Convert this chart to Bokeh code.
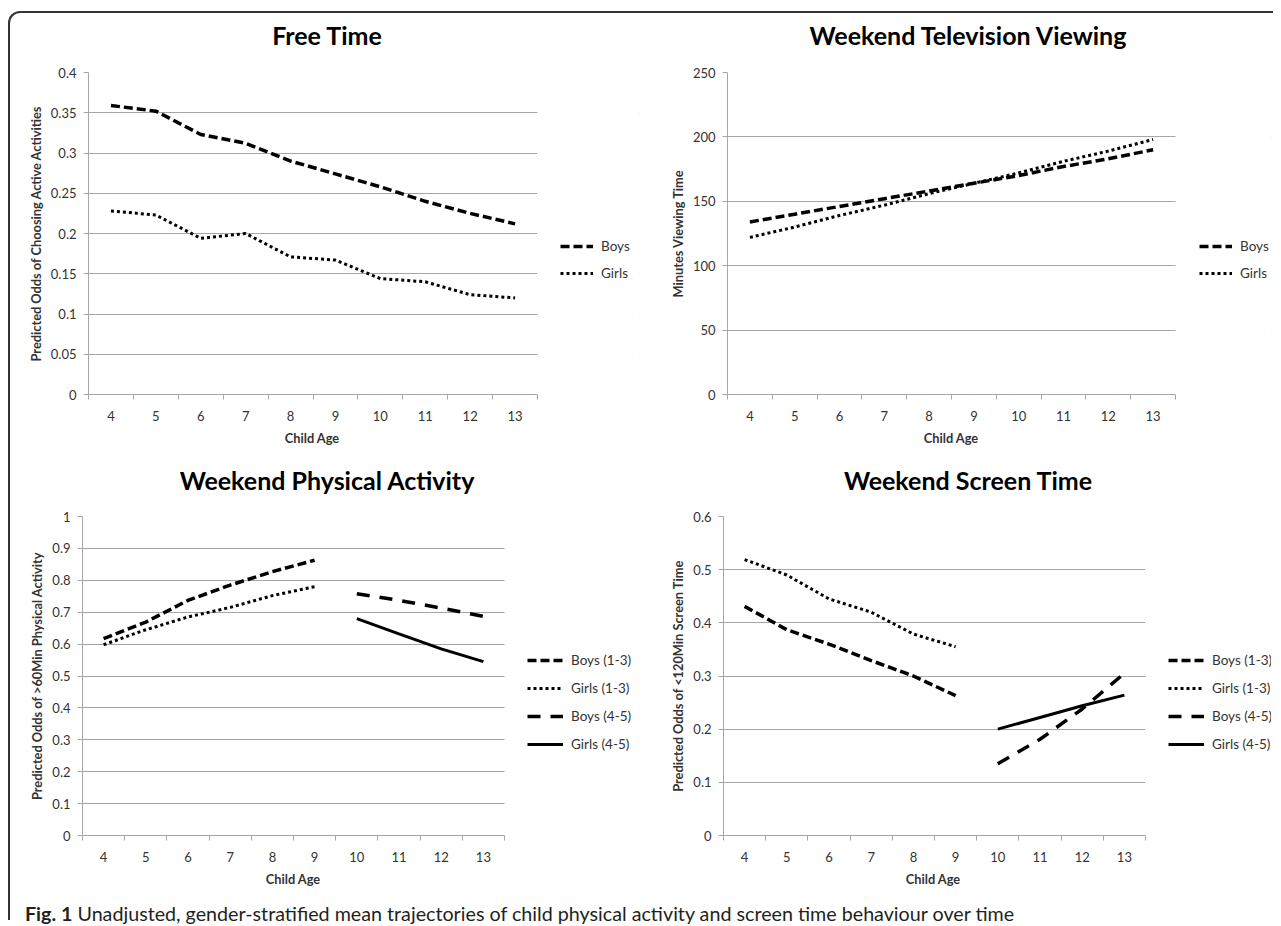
from bokeh.plotting import figure
from bokeh.models import (Range1d, FixedTicker, CustomJSTickFormatter, Legend,
                          LegendItem, BoxAnnotation, Div)
from bokeh.layouts import column, row
from bokeh.embed import file_html
from bokeh.resources import INLINE

# ---------------- data ----------------
ages = [4, 5, 6, 7, 8, 9, 10, 11, 12, 13]
ages_early = [4, 5, 6, 7, 8, 9]
ages_late = [10, 11, 12, 13]

free_boys = [0.359, 0.352, 0.323, 0.312, 0.290, 0.274, 0.258, 0.240, 0.225, 0.212]
free_girls = [0.228, 0.223, 0.194, 0.200, 0.171, 0.167, 0.144, 0.140, 0.124, 0.120]

tv_boys = [134, 140, 146, 152, 158, 164, 170, 177, 183, 190]
tv_girls = [122, 130, 139, 147, 156, 164, 172, 181, 189, 198]

pa_boys_13 = [0.617, 0.669, 0.737, 0.785, 0.827, 0.863]
pa_girls_13 = [0.598, 0.645, 0.685, 0.715, 0.752, 0.780]
pa_boys_45 = [0.758, 0.737, 0.713, 0.687]
pa_girls_45 = [0.680, 0.632, 0.585, 0.545]

st_boys_13 = [0.431, 0.387, 0.360, 0.329, 0.300, 0.263]
st_girls_13 = [0.519, 0.490, 0.445, 0.420, 0.379, 0.355]
st_boys_45 = [0.135, 0.181, 0.238, 0.305]
st_girls_45 = [0.200, 0.222, 0.244, 0.264]

ticks_free = [0, 0.05, 0.1, 0.15, 0.2, 0.25, 0.3, 0.35, 0.4]
ticks_tv = [0, 50, 100, 150, 200, 250]
ticks_pa = [0, 0.1, 0.2, 0.3, 0.4, 0.5, 0.6, 0.7, 0.8, 0.9, 1]
ticks_st = [0, 0.1, 0.2, 0.3, 0.4, 0.5, 0.6]

x_title = "Child Age"

FONT = "Lato"
GRID = "#a6a6a6"
TXT = "#333333"

STY = {
    "boys": dict(line_dash="9 4", line_width=3.5),
    "girls": dict(line_dash="3 3", line_width=3),
    "boys45": dict(line_dash="13 10", line_width=3.5),
    "girls45": dict(line_dash="solid", line_width=3),
}

X_LO = ages[0] - 0.5
X_HI = ages[-1] + 0.5


def panel(ylabel, yticks, ymax, series, left, top, plot_w, frame_w, fh,
          legend_xy, glyph_w, spacing):
    x_end = X_LO + (X_HI - X_LO) * frame_w / plot_w
    p = figure(frame_width=frame_w, frame_height=fh,
               min_border_left=left, min_border_top=top,
               min_border_right=2, min_border_bottom=28,
               x_range=Range1d(X_LO, x_end), y_range=Range1d(0, ymax),
               output_backend="svg", toolbar_location=None, title=None)
    p.outline_line_color = None
    p.background_fill_color = "white"
    p.border_fill_color = "white"
    p.xgrid.visible = False
    p.ygrid.grid_line_color = GRID
    p.ygrid.grid_line_width = 1

    p.xaxis.bounds = (X_LO, X_HI)
    p.xaxis.ticker = FixedTicker(ticks=ages, minor_ticks=[a - 0.5 for a in ages] + [X_HI])
    p.xaxis.major_tick_line_color = None
    p.xaxis.major_tick_out = 0
    p.xaxis.major_tick_in = 0
    p.xaxis.minor_tick_out = 5
    p.xaxis.minor_tick_in = 0
    p.xaxis.minor_tick_line_color = GRID
    p.xaxis.major_label_standoff = 11

    p.yaxis.ticker = FixedTicker(ticks=yticks, minor_ticks=[])
    p.yaxis.formatter = CustomJSTickFormatter(code="return String(Number(tick.toFixed(3)));")
    p.yaxis.major_tick_out = 5
    p.yaxis.major_tick_in = 0
    p.yaxis.major_tick_line_color = GRID
    p.yaxis.minor_tick_line_color = None
    p.yaxis.major_label_standoff = 7
    p.yaxis.axis_label = ylabel
    p.yaxis.axis_label_standoff = 4

    for ax in (p.xaxis, p.yaxis):
        ax.axis_line_color = GRID
        ax.axis_line_width = 1
        ax.major_label_text_font = FONT
        ax.major_label_text_font_size = "13px"
        ax.major_label_text_color = TXT
        ax.axis_label_text_font = FONT
        ax.axis_label_text_font_size = "12.8px"
        ax.axis_label_text_font_style = "bold"
        ax.axis_label_text_color = TXT

    # blank out the legend area to the right of the plot area
    p.add_layout(BoxAnnotation(left=X_HI, fill_color="white", fill_alpha=1,
                               line_alpha=0))

    items = []
    for name, xs, ys, sty in series:
        r = p.line(xs, ys, line_color="black", **STY[sty])
        items.append(LegendItem(label=name, renderers=[r]))
    p.add_layout(Legend(items=items, location=legend_xy, glyph_width=glyph_w,
                        glyph_height=20, label_height=20, spacing=spacing, padding=0,
                        margin=0, border_line_color=None, background_fill_alpha=0,
                        label_text_font=FONT, label_text_font_size="13.5px",
                        label_text_color=TXT, label_standoff=8))
    return p


def centered_div(text, width, height, center_x, css):
    box_w = 480
    return Div(text=(f'<div style="margin-left:{center_x - box_w / 2}px;width:{box_w}px;'
                     f'text-align:center;white-space:nowrap;{css}">{text}</div>'),
               width=width, height=height, margin=0)


def title_div(text, width, height, center_x):
    return centered_div(text, width, height, center_x,
                        'font-family:Lato;font-weight:bold;font-size:25px;'
                        f'line-height:{height}px;color:#000')


def xlabel_div(width, height, center_x):
    return centered_div(x_title, width, height, center_x,
                        'font-family:Lato;font-weight:bold;font-size:12.8px;'
                        'line-height:26px;position:relative;top:2px;color:#333')


s1 = [("Boys", ages, free_boys, "boys"), ("Girls", ages, free_girls, "girls")]
s2 = [("Boys", ages, tv_boys, "boys"), ("Girls", ages, tv_girls, "girls")]
s3 = [("Boys (1-3)", ages_early, pa_boys_13, "boys"),
      ("Girls (1-3)", ages_early, pa_girls_13, "girls"),
      ("Boys (4-5)", ages_late, pa_boys_45, "boys45"),
      ("Girls (4-5)", ages_late, pa_girls_45, "girls45")]
s4 = [("Boys (1-3)", ages_early, st_boys_13, "boys"),
      ("Girls (1-3)", ages_early, st_girls_13, "girls"),
      ("Boys (4-5)", ages_late, st_boys_45, "boys45"),
      ("Girls (4-5)", ages_late, st_girls_45, "girls45")]

p1 = panel("Predicted Odds of Choosing Active Activities", ticks_free, 0.4, s1,
           left=78, top=15, plot_w=449, frame_w=551, fh=322,
           legend_xy=(472, 111), glyph_w=33, spacing=7)
p2 = panel("Minutes Viewing Time", ticks_tv, 250, s2,
           left=86, top=15, plot_w=448, frame_w=544, fh=322,
           legend_xy=(472, 111), glyph_w=33, spacing=7)
p3 = panel("Predicted Odds of >60Min Physical Activity", ticks_pa, 1, s3,
           left=72, top=17, plot_w=422, frame_w=557, fh=319,
           legend_xy=(445, 81), glyph_w=36, spacing=8)
p4 = panel("Predicted Odds of <120Min Screen Time", ticks_st, 0.6, s4,
           left=82, top=17, plot_w=422, frame_w=548, fh=319,
           legend_xy=(445, 81), glyph_w=36, spacing=8)

t1 = title_div("Free Time", 631, 44, 317)
t2 = title_div("Weekend Television Viewing", 632, 44, 327)
t3 = title_div("Weekend Physical Activity", 631, 38, 317)
t4 = title_div("Weekend Screen Time", 632, 38, 327)

x1 = xlabel_div(631, 38, 302)
x2 = xlabel_div(632, 38, 310)
x3 = xlabel_div(631, 26, 283)
x4 = xlabel_div(632, 26, 292)

caption = Div(
    text=('<div style="font-family:Lato;font-size:19.7px;line-height:22px;'
          'padding:13px 0 0 15px;color:#231f20;white-space:nowrap">'
          '<b>Fig. 1</b> Unadjusted, gender-stratified mean trajectories of child '
          'physical activity and screen time behaviour over time</div>'),
    width=1263, height=30, margin=0)

layout = column(row(column(t1, p1, x1), column(t2, p2, x2)),
                row(column(t3, p3, x3), column(t4, p4, x4)),
                caption,
                margin=(11, 0, 0, 8),
                styles={"border-top": "2px solid #333", "border-left": "2px solid #333",
                        "border-top-left-radius": "12px"})

open("out.html", "w").write(file_html(layout, INLINE))
